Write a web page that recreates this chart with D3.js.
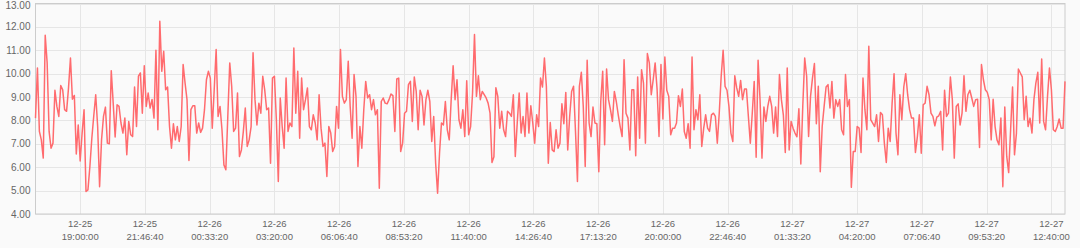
<!DOCTYPE html>
<html><head><meta charset="utf-8">
<script src="https://cdn.jsdelivr.net/npm/d3@7"></script>
<style>html,body{margin:0;padding:0;background:#fafafa;} svg{display:block;font-family:"Liberation Sans",Arial,sans-serif;}</style>
</head><body><svg id="chart" width="1080" height="248"></svg>
<script>
// ---- data ----
const startTime = "2024-12-25 17:05:00";
const stepMinutes = 5;
const values = [
8.1,10.24,7.53,7.17,6.39,11.64,10.46,7.53,6.81,7.03,9.29,8.6,8.17,9.49,9.31,8.46,8.39,9.39,10.67,8.91,9.07,6.57,7.81,6.27,7.46,8.46,4.96,5.03,6.03,7.24,8.2,9.1,7.74,5.17,7.17,8.17,8.57,7.03,7.0,10.13,8.74,7.29,8.67,8.6,
7.89,7.46,8.1,6.53,7.96,7.39,7.31,9.43,7.74,9.89,10.03,8.31,10.34,8.6,9.17,8.53,8.9,8.1,11.0,7.6,12.24,10.1,10.96,9.31,9.43,7.74,6.81,7.86,7.17,7.74,7.1,7.74,10.39,9.6,8.89,6.29,8.46,8.63,8.63,7.46,7.89,7.49,7.67,8.46,
9.74,10.1,9.81,7.67,9.31,11.03,8.17,8.6,7.6,6.1,5.89,8.17,10.46,9.46,7.53,7.67,9.17,6.46,6.74,7.53,8.53,6.89,7.17,7.74,10.89,8.89,7.81,8.74,8.31,9.89,9.31,8.46,8.53,6.17,9.81,9.89,8.03,5.39,8.96,7.74,6.81,9.81,7.53,7.89,
7.74,11.1,8.31,10.1,7.24,9.81,8.46,8.89,9.39,7.74,7.6,8.24,7.89,7.17,9.1,7.67,6.89,7.03,5.6,7.74,7.46,6.67,6.89,8.6,7.67,11.03,9.03,8.74,8.89,10.53,8.6,7.24,9.96,9.03,6.03,7.74,6.81,8.46,9.67,8.96,9.1,8.46,8.89,
8.24,8.46,5.1,8.81,8.96,8.74,8.71,8.89,9.13,9.06,7.53,9.77,9.81,6.67,7.03,8.31,8.39,9.53,9.67,7.96,9.86,9.24,7.6,9.29,9.03,7.81,8.89,9.29,8.81,7.1,8.17,6.17,4.89,6.6,7.89,7.81,8.81,7.6,7.17,8.89,10.34,8.89,9.74,8.03,
7.67,8.46,7.31,9.7,7.39,7.74,9.17,11.67,9.03,9.91,8.89,9.24,9.1,8.96,8.74,8.31,6.2,6.45,9.4,9.03,7.67,8.39,7.6,7.31,8.39,8.31,8.17,9.1,6.46,7.89,9.17,7.46,8.17,7.31,9.17,7.46,8.63,7.89,7.03,8.24,7.74,9.81,9.43,10.67,
9.46,6.17,7.91,6.74,6.67,7.6,6.81,7.03,8.71,7.86,9.2,6.74,8.17,9.24,9.46,7.53,5.39,9.46,10.06,8.6,6.03,10.57,7.89,7.31,8.57,7.89,7.86,5.81,8.81,10.1,6.96,10.2,8.89,8.46,7.96,9.24,8.81,8.24,7.74,7.31,10.6,8.31,8.1,6.74,
9.31,9.31,6.49,9.86,7.24,10.17,9.6,7.03,10.86,10.46,9.1,9.74,10.46,9.34,7.31,10.39,8.06,10.71,9.29,9.03,7.39,7.67,7.67,7.89,9.06,8.6,9.34,7.53,7.24,7.86,6.81,10.71,7.6,8.46,8.03,9.1,6.89,7.67,8.24,7.67,7.53,8.24,8.31,8.17,
7.03,8.31,9.89,11.0,9.46,9.29,8.6,7.46,7.1,9.91,9.39,9.03,9.71,8.89,9.34,9.34,8.17,7.03,8.31,9.67,6.43,10.57,8.89,6.39,8.57,7.96,8.6,9.03,8.6,7.46,8.57,7.31,9.96,8.89,8.24,6.63,10.24,6.74,7.96,7.67,7.46,7.3,8.5,
6.14,8.6,10.67,9.89,7.31,9.03,9.81,10.43,7.86,9.46,5.81,7.74,8.6,9.43,9.53,8.53,9.67,8.1,8.89,8.6,8.89,7.6,7.39,9.96,8.6,8.89,5.14,6.67,6.67,7.74,7.67,6.63,9.81,8.46,7.6,11.17,8.03,7.89,7.74,8.24,7.1,8.34,8.24,7.03,
6.2,7.67,7.1,8.74,10.0,7.46,6.53,9.1,8.03,9.43,10.0,9.1,8.46,8.1,8.1,6.63,7.31,8.24,6.6,8.67,8.74,9.46,9.1,8.31,8.17,7.77,8.14,8.2,8.39,6.74,9.29,8.17,8.31,9.86,8.89,6.39,8.6,8.71,7.81,8.31,9.91,8.39,9.1,9.29,
8.96,8.6,8.89,8.91,6.84,10.39,9.74,9.31,9.2,8.89,7.17,8.91,7.74,7.17,6.96,8.1,5.17,8.57,6.46,5.77,7.6,9.43,6.53,7.46,10.2,10.03,9.86,8.03,9.03,7.74,8.1,7.46,8.89,9.6,10.06,7.89,10.63,7.96,7.6,9.03,10.24,9.31,7.6,7.53,7.74,8.06,7.67,7.67,9.67
];
const yTicks = [4,5,6,7,8,9,10,11,12,13];
const xTickTimes = [
"2024-12-25 19:00:00","2024-12-25 21:46:40","2024-12-26 00:33:20","2024-12-26 03:20:00",
"2024-12-26 06:06:40","2024-12-26 08:53:20","2024-12-26 11:40:00","2024-12-26 14:26:40",
"2024-12-26 17:13:20","2024-12-26 20:00:00","2024-12-26 22:46:40","2024-12-27 01:33:20",
"2024-12-27 04:20:00","2024-12-27 07:06:40","2024-12-27 09:53:20","2024-12-27 12:40:00"
];

// ---- chart ----
const W = 1080, H = 248;
const margin = {left: 35.5, right: 15, top: 3.5, bottom: 34};
const parse = d3.timeParse("%Y-%m-%d %H:%M:%S");
const t0 = parse(startTime);
const data = values.map((v, i) => ({t: new Date(t0.getTime() + i * stepMinutes * 60000), v}));
const ticks = xTickTimes.map(parse);

const x = d3.scaleTime().domain(d3.extent(data, d => d.t)).range([margin.left, W - margin.right]);
const y = d3.scaleLinear().domain([4, 13]).range([H - margin.bottom, margin.top]);

const svg = d3.select("#chart");

// grid
svg.append("g").selectAll("line").data(yTicks).join("line")
  .attr("x1", margin.left).attr("x2", W - margin.right)
  .attr("y1", d => Math.round(y(d)) + 0.5).attr("y2", d => Math.round(y(d)) + 0.5)
  .attr("stroke", "#e6e6e6").attr("stroke-width", 1);
svg.append("g").selectAll("line").data(ticks).join("line")
  .attr("x1", d => Math.round(x(d)) + 0.5).attr("x2", d => Math.round(x(d)) + 0.5)
  .attr("y1", margin.top).attr("y2", H - margin.bottom)
  .attr("stroke", "#e6e6e6").attr("stroke-width", 1);

// border
svg.append("rect")
  .attr("x", margin.left).attr("y", margin.top)
  .attr("width", W - margin.right - margin.left).attr("height", H - margin.bottom - margin.top)
  .attr("fill", "none").attr("stroke", "#cccccc").attr("stroke-width", 1);

// y labels (top one nudged so it stays inside the picture)
svg.append("g").selectAll("text").data(yTicks).join("text")
  .attr("x", margin.left - 5).attr("y", d => Math.max(y(d), 5)).attr("dy", "0.35em")
  .attr("text-anchor", "end").attr("font-size", 10).attr("fill", "#666")
  .text(d => d3.format(".2f")(d));

// x labels
const fmtD = d3.timeFormat("%m-%d"), fmtT = d3.timeFormat("%H:%M:%S");
const xl = svg.append("g").selectAll("g").data(ticks).join("g")
  .attr("transform", d => `translate(${x(d)},0)`);
xl.append("text").attr("y", 227).attr("text-anchor", "middle").attr("font-size", 9.5).attr("fill", "#666").text(d => fmtD(d));
xl.append("text").attr("y", 240).attr("text-anchor", "middle").attr("font-size", 9.5).attr("fill", "#666").text(d => fmtT(d));

// line
svg.append("path").datum(data)
  .attr("fill", "none").attr("stroke", "#ff6b6e").attr("stroke-width", 1.5)
  .attr("stroke-linejoin", "round")
  .attr("d", d3.line().x(d => x(d.t)).y(d => y(d.v)));
</script>
</body></html>
